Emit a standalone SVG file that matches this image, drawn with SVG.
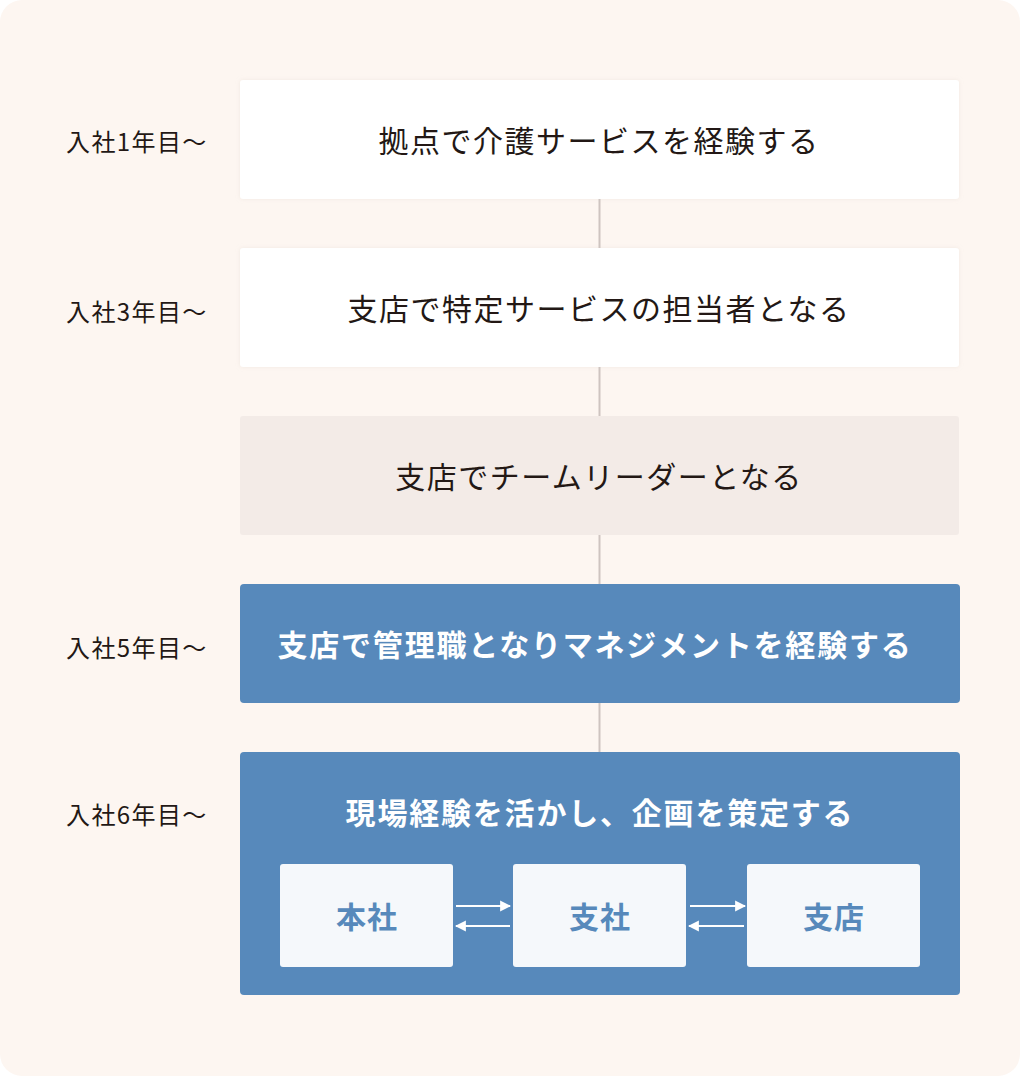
<svg xmlns="http://www.w3.org/2000/svg" width="1020" height="1076" viewBox="0 0 1020 1076">
<defs>
<style>
.bg{fill:#fdf6f1}
.lbl{font-family:"Noto Sans CJK JP","Noto Sans",sans-serif;font-size:24px;fill:#231815;letter-spacing:1.4px;dominant-baseline:central}
.main{font-family:"Noto Sans CJK JP","Noto Sans",sans-serif;font-size:30px;fill:#231815;letter-spacing:1.5px;text-anchor:middle;dominant-baseline:central;font-weight:400}
.wt{fill:#ffffff;font-weight:700;letter-spacing:1.8px}
.sub{font-family:"Noto Sans CJK JP","Noto Sans",sans-serif;font-size:30px;fill:#5789bb;letter-spacing:1px;text-anchor:middle;dominant-baseline:central;font-weight:700}
.conn{stroke:#cec4c0;stroke-width:2;fill:none}
.arr{stroke:#ffffff;stroke-width:2;fill:none}
.white{fill:#ffffff}
.beige{fill:#f3ebe7}
.blue{fill:#5789bb}
.subbox{fill:#f5f8fb}
</style>
<marker id="ah" viewBox="0 0 10 10" refX="9" refY="5" markerWidth="5.5" markerHeight="6" orient="auto" markerUnits="strokeWidth">
<path d="M0,0 L10,5 L0,10 z" fill="#ffffff"/>
</marker>
<filter id="sh" x="-5%" y="-10%" width="110%" height="120%">
<feDropShadow dx="0" dy="0" stdDeviation="2" flood-color="#d9cfc9" flood-opacity="0.35"/>
</filter>
</defs>
<rect class="bg" x="0" y="0" width="1020" height="1076" rx="22"/>

<g id="label1"><text class="lbl" x="66" y="140">入社1年目〜</text></g>
<g id="label3"><text class="lbl" x="66" y="310">入社3年目〜</text></g>
<g id="label5"><text class="lbl" x="66" y="646">入社5年目〜</text></g>
<g id="label6"><text class="lbl" x="66" y="813">入社6年目〜</text></g>

<g id="step1">
<rect class="white" x="240" y="80" width="719" height="119" rx="3" filter="url(#sh)"/>
<text class="main" x="599" y="139">拠点で介護サービスを経験する</text>
</g>
<g id="step2">
<rect class="white" x="240" y="248" width="719" height="119" rx="3" filter="url(#sh)"/>
<text class="main" x="599" y="307">支店で特定サービスの担当者となる</text>
</g>
<g id="step3">
<rect class="beige" x="240" y="416" width="719" height="119" rx="3"/>
<text class="main" x="599" y="475">支店でチームリーダーとなる</text>
</g>
<g id="step4">
<rect class="blue" x="240" y="584" width="720" height="119" rx="4"/>
<text class="main wt" x="595" y="643">支店で管理職となりマネジメントを経験する</text>
</g>
<g id="step5">
<rect class="blue" x="240" y="752" width="720" height="243" rx="4"/>
<text class="main wt" x="600" y="811">現場経験を活かし、企画を策定する</text>
</g>
<g id="honsha">
<rect class="subbox" x="280" y="864" width="173" height="103" rx="3"/>
<text class="sub" x="367" y="915">本社</text>
</g>
<g id="shisha">
<rect class="subbox" x="513" y="864" width="173" height="103" rx="3"/>
<text class="sub" x="600" y="915">支社</text>
</g>
<g id="shiten">
<rect class="subbox" x="747" y="864" width="173" height="103" rx="3"/>
<text class="sub" x="834" y="915">支店</text>
</g>

<g id="connectors">
<line class="conn" x1="599.5" y1="199" x2="599.5" y2="248"/>
<line class="conn" x1="599.5" y1="367" x2="599.5" y2="416"/>
<line class="conn" x1="599.5" y1="535" x2="599.5" y2="584"/>
<line class="conn" x1="599.5" y1="703" x2="599.5" y2="752"/>
<line class="arr" x1="456" y1="906" x2="510" y2="906" marker-end="url(#ah)"/>
<line class="arr" x1="510" y1="926" x2="456" y2="926" marker-end="url(#ah)"/>
<line class="arr" x1="690" y1="906" x2="745" y2="906" marker-end="url(#ah)"/>
<line class="arr" x1="744" y1="926" x2="689" y2="926" marker-end="url(#ah)"/>
</g>
</svg>
